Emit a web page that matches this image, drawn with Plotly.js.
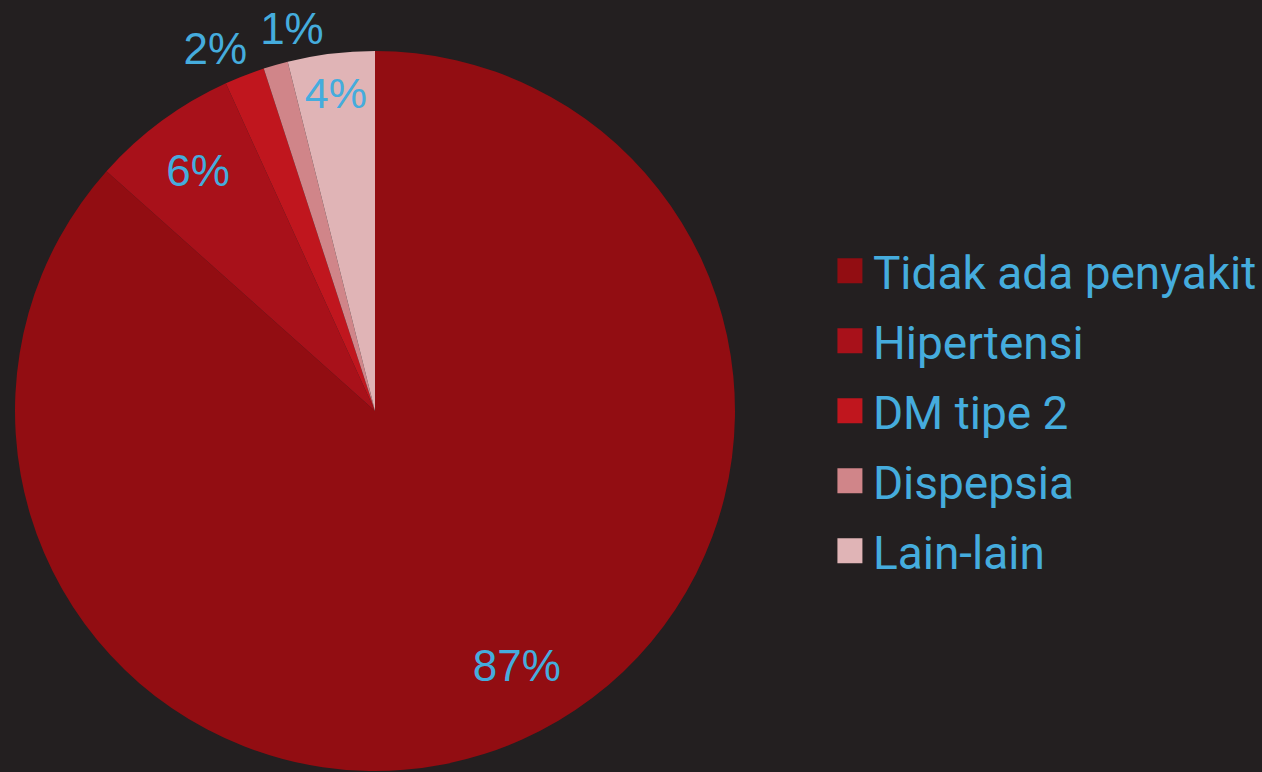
<!DOCTYPE html>
<html>
<head>
<meta charset="utf-8">
<script src="https://cdn.plot.ly/plotly-3.0.1.min.js"></script>
<style>
html,body{margin:0;padding:0;background:#231F20;}
#chart{width:1262px;height:772px;}
</style>
</head>
<body>
<div id="chart"></div>
<script>
const categories = ['Tidak ada penyakit', 'Hipertensi', 'DM tipe 2', 'Dispepsia', 'Lain-lain'];
const values = [86.6, 6.6, 1.8, 1.1, 3.9];
const valueLabels = ['87%', '6%', '2%', '1%', '4%'];
const sliceColors = ['#920D12', '#A8111A', '#C0161E', '#D08589', '#E0B4B6'];

const labelFont = { family: 'Liberation Sans, Arial, sans-serif', size: 44, color: '#45ACDD' };
const pieDomain = { x: [15/1262, 735/1262], y: [1/772, 721/772] };

// main pie: slices + the inside labels of Hipertensi and Lain-lain
const mainShown = [1, 4];
const trace = {
  type: 'pie',
  labels: categories,
  values: values,
  text: valueLabels.map((t, i) => mainShown.includes(i) ? t : ''),
  textinfo: 'text',
  textposition: categories.map((c, i) => mainShown.includes(i) ? 'inside' : 'none'),
  insidetextorientation: 'horizontal',
  sort: false,
  direction: 'clockwise',
  rotation: 0,
  marker: { colors: sliceColors, line: { width: 0 } },
  textfont: labelFont,
  insidetextfont: labelFont,
  outsidetextfont: labelFont,
  domain: pieDomain,
  hoverinfo: 'label+percent'
};

// transparent label-only overlays (same data) to place remaining labels like the original
function labelTrace(idx, pos, rot, hole) {
  return {
    type: 'pie',
    labels: categories,
    values: values,
    text: valueLabels.map((t, i) => i === idx ? t : ''),
    textinfo: 'text',
    textposition: categories.map((c, i) => i === idx ? pos : 'none'),
    insidetextorientation: 'horizontal',
    hole: hole,
    sort: false,
    direction: 'clockwise',
    rotation: rot,
    marker: { colors: categories.map(() => 'rgba(0,0,0,0)'), line: { width: 0 } },
    textfont: labelFont,
    insidetextfont: labelFont,
    outsidetextfont: labelFont,
    domain: pieDomain,
    showlegend: false,
    hoverinfo: 'skip'
  };
}

const overlays = [
  labelTrace(0, 'inside', -5, 0.62),
  labelTrace(2, 'outside', 2.5, 0),
  labelTrace(3, 'outside', 9.8, 0)
];

const layout = {
  width: 1262,
  height: 772,
  margin: { l: 0, r: 0, t: 0, b: 0 },
  paper_bgcolor: '#231F20',
  plot_bgcolor: '#231F20',
  showlegend: true,
  legend: {
    x: 0.660,
    xanchor: 'left',
    y: 0.468,
    yanchor: 'middle',
    font: { family: 'Roboto, sans-serif', size: 46, color: '#45ACDD' },
    bgcolor: 'rgba(0,0,0,0)',
    itemclick: false
  }
};

Plotly.newPlot('chart', [trace].concat(overlays), layout, { displayModeBar: false, staticPlot: true }).then(function (gd) {
  gd.querySelectorAll('.legend .legendpoints path').forEach(function (p) {
    p.setAttribute('d', 'M9.5,12.5H-15.5V-12.5H9.5Z');
  });
  const items = Array.from(gd.querySelectorAll('.legend .traces'));
  const ys = items.map(function (g) {
    const m = /translate\(\s*([-\d.]+)[ ,]+([-\d.]+)\s*\)/.exec(g.getAttribute('transform') || '');
    return m ? [parseFloat(m[1]), parseFloat(m[2])] : [0, 0];
  });
  const mid = (items.length - 1) / 2;
  const midY = (ys[0][1] + ys[ys.length - 1][1]) / 2;
  items.forEach(function (g, i) {
    g.setAttribute('transform', 'translate(' + ys[i][0] + ',' + (midY + (i - mid) * 70) + ')');
  });
});
</script>
</body>
</html>
